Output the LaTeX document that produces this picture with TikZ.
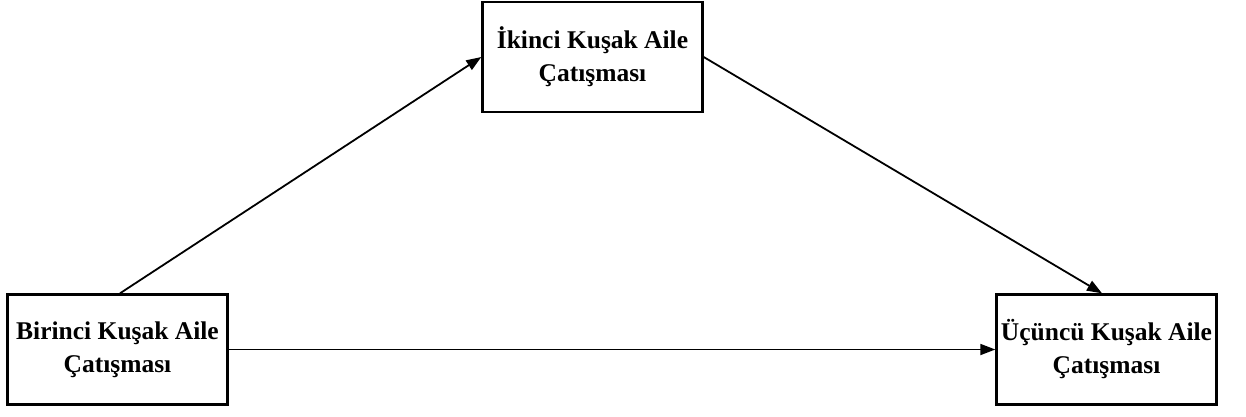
\documentclass[tikz,border=0pt]{standalone}
\usepackage{fontspec}
\setmainfont{Liberation Serif}
\usetikzlibrary{arrows.meta,calc}
\begin{document}
\begin{tikzpicture}[x=1pt,y=-1pt,
  box/.style={draw=black,line width=2.4pt,fill=white,minimum width=220pt,minimum height=110pt,
    align=center,inner sep=0pt,font=\fontsize{25.5}{33}\selectfont\bfseries},
  conn/.style={line width=1.8pt,-{Triangle[length=15pt,width=11pt]}}]
\useasboundingbox (0,0) rectangle (1246,416);
\node[box] (T) at (592.5,57) {İkinci Kuşak Aile\\Çatışması};
\node[box] (L) at (117.5,349.5) {Birinci Kuşak Aile\\Çatışması};
\node[box] (R) at (1106.5,349.5) {Üçüncü Kuşak Aile\\Çatışması};
\draw[conn] ([xshift=2.5pt]L.north) -- (T.west);
\draw[conn] (T.east) -- ([xshift=-4.5pt]R.north);
\draw[conn] (L.east) -- (R.west);
\end{tikzpicture}
\end{document}
